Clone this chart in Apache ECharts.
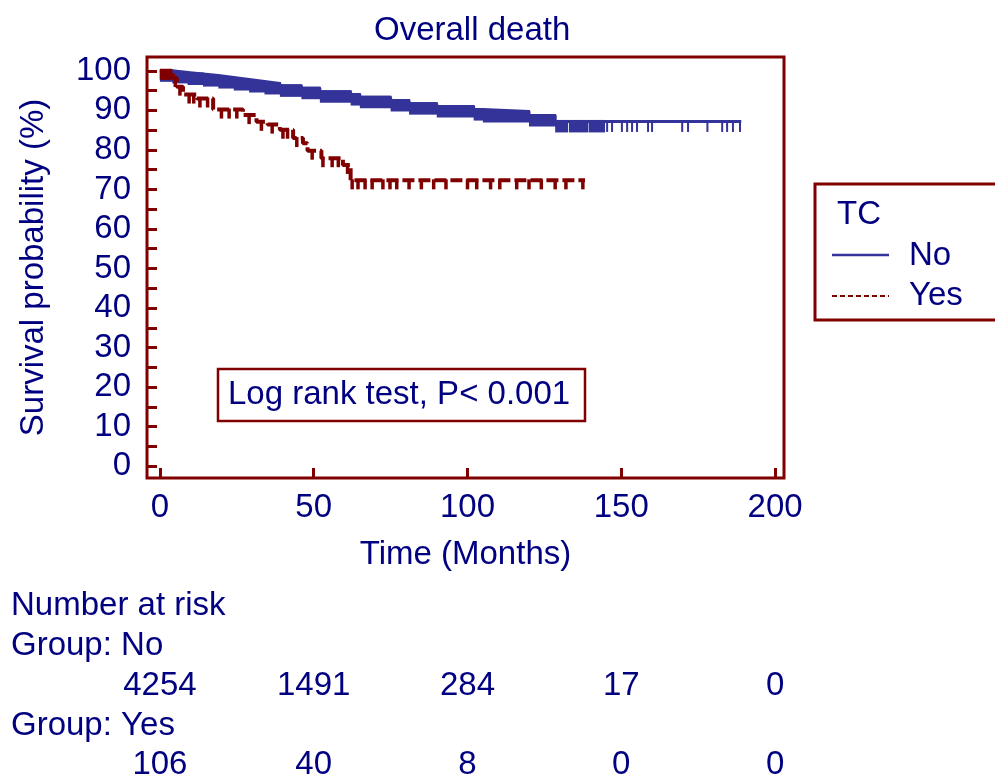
<!DOCTYPE html>
<html>
<head>
<meta charset="utf-8">
<title>Overall death</title>
<script src="https://cdn.jsdelivr.net/npm/echarts@6/dist/echarts.min.js"></script>
<style>
	html, body { margin: 0; padding: 0; background: #ffffff; }
	#chart { width: 995px; height: 777px; }
</style>
</head>
<body>
<div id="chart"></div>
<script>
// Kaplan-Meier steps (time in months, survival in %)
var noTimes = [0, 4, 9, 14, 19, 24, 29, 34, 39, 46, 52, 62, 65, 75, 81, 90, 102, 105, 120, 128.5, 189];
var noSurv  = [100, 99.6, 99.2, 98.8, 98.3, 97.8, 97.3, 96.8, 96.2, 95.6, 94.7, 94.0, 93.3, 92.5, 91.7, 91.0, 90.2, 89.7, 88.7, 87.2, 87.2];

// dense censoring in group No shows up as a solid band
var noCensorBands = [[0, 128.5], [128.5, 132.4], [133, 139], [139.5, 144.4]];
var noCensorTimes = [145.4, 147, 150.2, 151.9, 153.5, 155.1, 158.7, 160, 169.8, 171.7, 178, 182.8, 184.4, 186.3, 188.6];

var yesTimes = [0, 4.3, 5.5, 7.5, 12, 17.3, 27, 31.4, 35, 39, 43.3, 46.5, 48, 52.5, 59.5, 62, 138.2];
var yesSurv  = [100, 98.2, 96, 94, 93, 90.2, 88.8, 87.1, 86.4, 85.1, 83.0, 81.7, 79.8, 77.9, 76.2, 72.3, 72.3];
var yesCensorTimes = [0.5, 1.5, 2.5, 3.5, 5, 6.5, 9.5, 11, 13, 15.5, 20, 22.5, 25, 29, 33, 36.5, 40, 41.5, 44.5, 49.5, 53, 56, 58, 61,
	62.5, 64.4, 66.7, 69, 72.5, 74.8, 77, 81, 85, 89, 93, 100, 103, 107.5, 110.5, 116, 120, 124, 128.5, 132, 137.5];

// axes
var xTickValues = [0, 50, 100, 150, 200];
var yTickValues = [0, 5, 10, 15, 20, 25, 30, 35, 40, 45, 50, 55, 60, 65, 70, 75, 80, 85, 90, 95, 100];
var yLabelValues = [0, 10, 20, 30, 40, 50, 60, 70, 80, 90, 100];

// number at risk table
var riskTimes = [0, 50, 100, 150, 200];
var riskNo  = [4254, 1491, 284, 17, 0];
var riskYes = [106, 40, 8, 0, 0];


var colors = {
	frame: '#800000',
	text: '#000080',
	no: '#333399',
	yes: '#800000'
};
var fontFamily = '"Liberation Sans", Arial, sans-serif';
var fontSize = 33;


function stepValueAt(times, surv, t) {
	var v = surv[0];
	for (var i = 0; i < times.length; i++) {
		if (times[i] <= t) v = surv[i];
	}
	return v;
}

function toPairs(times, surv) {
	var out = [];
	for (var i = 0; i < times.length; i++) out.push([times[i], surv[i]]);
	return out;
}

function censorPoints(censorTimes, times, surv) {
	var out = [];
	for (var i = 0; i < censorTimes.length; i++) {
		out.push([censorTimes[i], stepValueAt(times, surv, censorTimes[i])]);
	}
	return out;
}

function riskPoints(values, row) {
	var out = [];
	for (var i = 0; i < riskTimes.length; i++) out.push([riskTimes[i], row, values[i]]);
	return out;
}

// one rect per step segment, hanging below the curve
function renderNoBand(params, api) {
	var t0 = api.value(0);
	var t1 = api.value(1);
	var bandPx = 11;
	var xs = [t0];
	for (var i = 0; i < noTimes.length; i++) {
		if (noTimes[i] > t0 && noTimes[i] < t1) xs.push(noTimes[i]);
	}
	xs.push(t1);

	var children = [];
	for (var j = 0; j < xs.length - 1; j++) {
		var v = stepValueAt(noTimes, noSurv, xs[j]);
		var p1 = api.coord([xs[j], v]);
		var p2 = api.coord([xs[j + 1], v]);
		children.push({
			type: 'rect',
			shape: { x: p1[0], y: p1[1] - 1.5, width: p2[0] - p1[0] + 1, height: bandPx + 1.5 },
			style: { fill: colors.no }
		});
	}
	return { type: 'group', children: children };
}

function textItem(text, x, y, align) {
	return {
		type: 'text',
		x: x,
		y: y,
		style: {
			text: text,
			fill: colors.text,
			fontSize: fontSize,
			fontFamily: fontFamily,
			align: align || 'left',
			verticalAlign: 'middle'
		}
	};
}


var chart = echarts.init(document.getElementById('chart'), null, { renderer: 'canvas' });

var axisTextStyle = {
	color: colors.text,
	fontSize: fontSize,
	fontFamily: fontFamily
};

var riskLabel = {
	show: true,
	position: 'inside',
	formatter: function (p) { return p.value[2]; },
	color: colors.text,
	opacity: 1,
	textBorderWidth: 0,
	fontSize: fontSize,
	fontFamily: fontFamily
};

var option = {
	animation: false,
	backgroundColor: '#ffffff',
	title: {
		text: 'Overall death',
		left: 369,
		top: 9,
		textStyle: {
			color: colors.text,
			fontSize: fontSize,
			fontWeight: 'normal',
			fontFamily: fontFamily
		}
	},
	grid: [
		{
			left: 147,
			right: 211,
			top: 57,
			bottom: 299,
			containLabel: false,
			show: true,
			borderColor: colors.frame,
			borderWidth: 3,
			backgroundColor: '#ffffff'
		},
		{
			left: 147,
			right: 211,
			top: 686,
			height: 79,
			containLabel: false
		}
	],
	xAxis: [
		{
			type: 'value',
			gridIndex: 0,
			min: -4.2,
			max: 202.9,
			name: 'Time (Months)',
			nameLocation: 'middle',
			nameGap: 60,
			nameTextStyle: axisTextStyle,
			axisLine: { show: false, onZero: false },
			axisTick: {
				show: true,
				inside: true,
				length: 10,
				customValues: xTickValues,
				lineStyle: { color: colors.frame, width: 3 }
			},
			axisLabel: {
				show: true,
				margin: 13,
				customValues: xTickValues,
				color: colors.text,
				fontSize: fontSize,
				fontFamily: fontFamily
			},
			splitLine: { show: false }
		},
		{
			type: 'value',
			gridIndex: 1,
			min: -4.2,
			max: 202.9,
			show: false
		}
	],
	yAxis: [
		{
			type: 'value',
			gridIndex: 0,
			min: -3.0,
			max: 103.5,
			name: 'Survival probability (%)',
			nameLocation: 'middle',
			nameGap: 97,
			nameTextStyle: axisTextStyle,
			axisLine: { show: false, onZero: false },
			axisTick: {
				show: true,
				inside: true,
				length: 10,
				customValues: yTickValues,
				lineStyle: { color: colors.frame, width: 3 }
			},
			axisLabel: {
				show: true,
				margin: 16,
				customValues: yLabelValues,
				color: colors.text,
				fontSize: fontSize,
				fontFamily: fontFamily
			},
			splitLine: { show: false }
		},
		{
			type: 'value',
			gridIndex: 1,
			min: 0,
			max: 1,
			inverse: true,
			show: false
		}
	],
	series: [
		{
			name: 'No band',
			type: 'custom',
			xAxisIndex: 0,
			yAxisIndex: 0,
			renderItem: renderNoBand,
			data: noCensorBands,
			clip: false,
			z: 2,
			silent: true
		},
		{
			name: 'No',
			type: 'line',
			step: 'end',
			data: toPairs(noTimes, noSurv),
			showSymbol: false,
			symbol: 'none',
			lineStyle: { color: colors.no, width: 3, type: 'solid' },
			z: 3
		},
		{
			name: 'No censored',
			type: 'scatter',
			data: censorPoints(noCensorTimes, noTimes, noSurv),
			symbol: 'rect',
			symbolSize: [2, 11],
			symbolOffset: [0, 5],
			itemStyle: { color: colors.no, opacity: 1 },
			z: 3
		},
		{
			name: 'Yes',
			type: 'line',
			step: 'end',
			data: toPairs(yesTimes, yesSurv),
			showSymbol: false,
			symbol: 'none',
			lineStyle: { color: colors.yes, width: 4, type: [12, 4] },
			z: 4
		},
		{
			name: 'Yes censored',
			type: 'scatter',
			data: censorPoints(yesCensorTimes, yesTimes, yesSurv),
			symbol: 'rect',
			symbolSize: [3.5, 10],
			symbolOffset: [0, 4],
			itemStyle: { color: colors.yes, opacity: 1 },
			z: 4
		},
		{
			name: 'At risk No',
			type: 'scatter',
			xAxisIndex: 1,
			yAxisIndex: 1,
			data: riskPoints(riskNo, 0),
			symbolSize: 1,
			itemStyle: { color: '#ffffff', opacity: 1 },
			label: riskLabel
		},
		{
			name: 'At risk Yes',
			type: 'scatter',
			xAxisIndex: 1,
			yAxisIndex: 1,
			data: riskPoints(riskYes, 1),
			symbolSize: 1,
			itemStyle: { color: '#ffffff', opacity: 1 },
			label: riskLabel
		}
	],
	graphic: [
		// log rank box
		{
			type: 'rect',
			shape: { x: 218, y: 369, width: 367, height: 52 },
			style: { fill: '#ffffff', stroke: colors.frame, lineWidth: 2.5 },
			z: 10
		},
		Object.assign(textItem('Log rank test, P< 0.001', 228, 395), { z: 11 }),

		// legend box
		{
			type: 'rect',
			shape: { x: 815, y: 184, width: 200, height: 136 },
			style: { fill: '#ffffff', stroke: colors.frame, lineWidth: 3 },
			z: 10
		},
		Object.assign(textItem('TC', 837, 215), { z: 11 }),
		{
			type: 'line',
			shape: { x1: 832, y1: 255, x2: 889, y2: 255 },
			style: { stroke: colors.no, lineWidth: 2.5 },
			z: 11
		},
		Object.assign(textItem('No', 909, 256), { z: 11 }),
		{
			type: 'line',
			shape: { x1: 832, y1: 296, x2: 889, y2: 296 },
			style: { stroke: colors.yes, lineWidth: 2, lineDash: [5, 3] },
			z: 11
		},
		Object.assign(textItem('Yes', 909, 296), { z: 11 }),

		// number at risk headings
		textItem('Number at risk', 11, 606),
		textItem('Group: No', 11, 646),
		textItem('Group: Yes', 11, 726)
	]
};

chart.setOption(option);
</script>
</body>
</html>
